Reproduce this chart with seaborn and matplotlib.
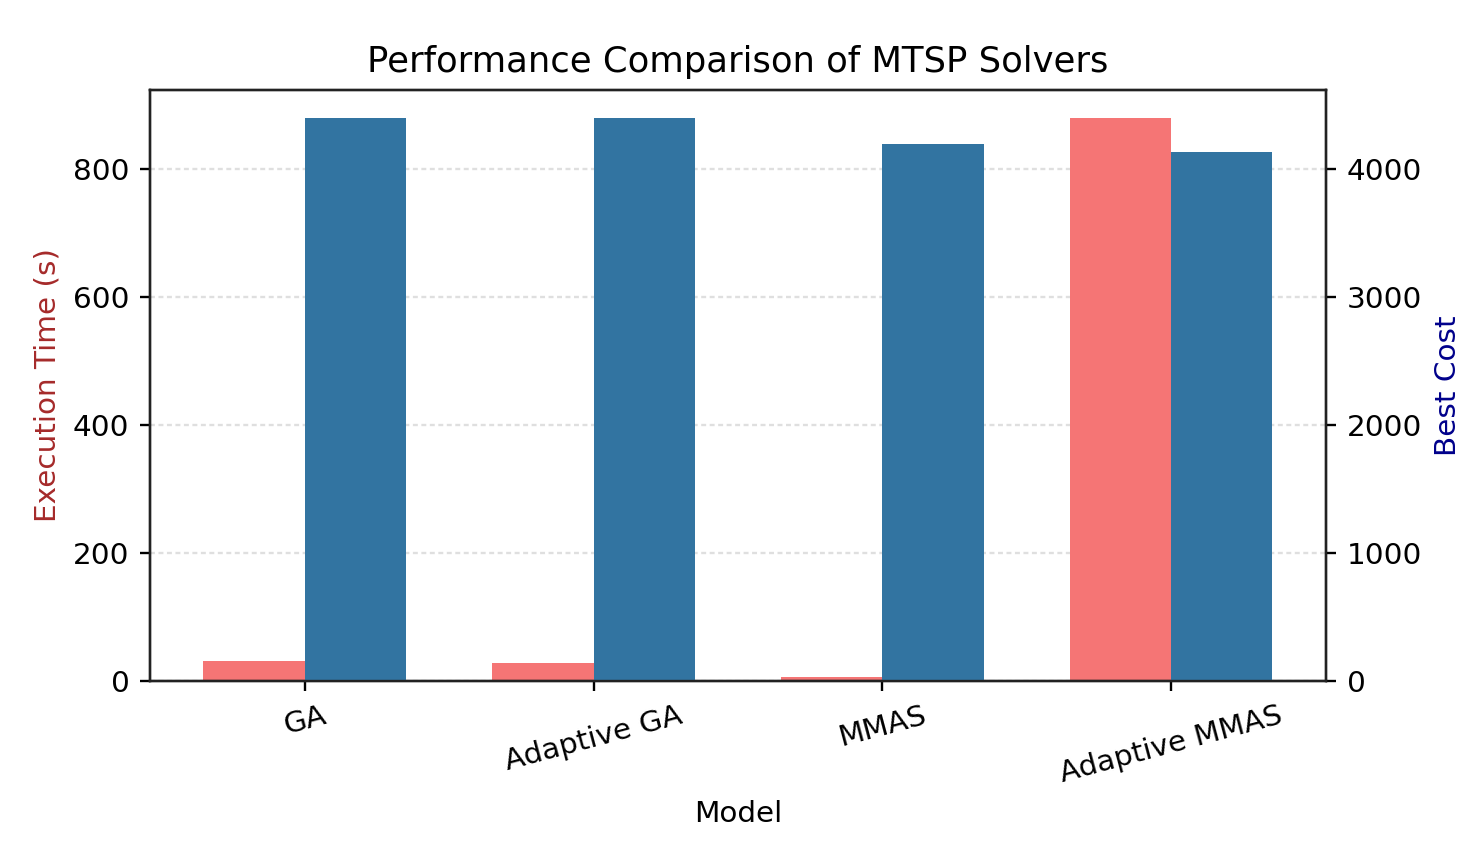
import matplotlib
matplotlib.use("Agg")
import matplotlib.pyplot as plt
import seaborn as sns
import pandas as pd

models = ["GA", "Adaptive GA", "MMAS", "Adaptive MMAS"]
exec_time = [32, 28, 7, 880]
best_cost = [4394, 4394, 4193, 4128]

metrics = ["Execution Time", "Best Cost"]
colors = {"Execution Time": "#f57575", "Best Cost": "#3274a1"}

df_time = pd.DataFrame({"Model": models, "Value": exec_time, "Metric": metrics[0]})
df_cost = pd.DataFrame({"Model": models, "Value": best_cost, "Metric": metrics[1]})

DPI = 212
fig, ax1 = plt.subplots(figsize=(1481 / DPI, 852 / DPI), dpi=DPI)
fig.subplots_adjust(left=0.1013, right=0.8953, top=0.8944, bottom=0.2007)

sns.barplot(data=df_time, x="Model", y="Value", hue="Metric", hue_order=metrics,
            order=models, palette=colors, width=0.7, dodge=True, saturation=1,
            legend=False, ax=ax1)
ax2 = ax1.twinx()
sns.barplot(data=df_cost, x="Model", y="Value", hue="Metric", hue_order=metrics,
            order=models, palette=colors, width=0.7, dodge=True, saturation=1,
            legend=False, ax=ax2)

ax1.set_xlim(-0.535, 3.535)
ax1.set_axisbelow(True)
ax1.yaxis.grid(True, linestyle=(0, (2.1, 1.5)), color="#c0c0c0", alpha=0.5, linewidth=0.8)
ax1.xaxis.grid(False)
ax2.grid(False)

for ax in (ax1, ax2):
    for sp in ax.spines.values():
        sp.set_color("#222222")

ax1.set_xlabel("Model")
ax1.set_ylabel("Execution Time (s)", color="brown")
ax2.set_ylabel("Best Cost", color="darkblue")
ax1.set_title("Performance Comparison of MTSP Solvers", fontsize=12)

for lbl in ax1.get_xticklabels():
    lbl.set_rotation(15)
    lbl.set_ha("center")

fig.savefig("out.png", dpi=DPI)
